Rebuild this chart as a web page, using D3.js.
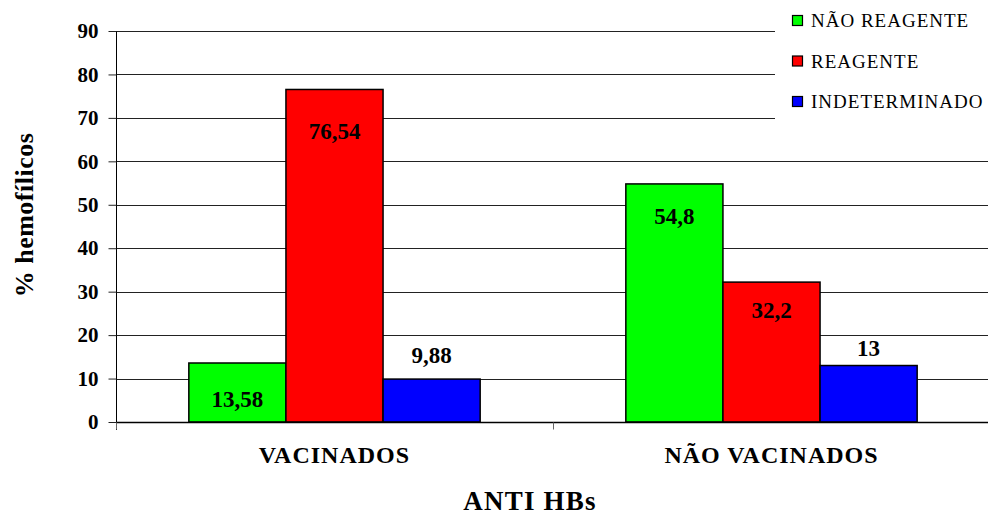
<!DOCTYPE html>
<html>
<head>
<meta charset="utf-8">
<script src="https://cdn.jsdelivr.net/npm/d3@7"></script>
<style>
  html, body { margin: 0; padding: 0; background: #fff; }
  svg text { font-family: "Liberation Serif", "Times New Roman", serif; }
</style>
</head>
<body>
<svg id="chart" width="988" height="517"></svg>
<script>
// Anti-HBs results among haemophiliacs, by vaccination status
const groups = ["VACINADOS", "NÃO VACINADOS"];
const seriesNames = ["NÃO REAGENTE", "REAGENTE", "INDETERMINADO"];
const naoReagente = [13.58, 54.8];
const reagente = [76.54, 32.2];
const indeterminado = [9.88, 13];
const valueLabels = [["13,58", "54,8"], ["76,54", "32,2"], ["9,88", "13"]];
const yTicks = [0, 10, 20, 30, 40, 50, 60, 70, 80, 90];

const seriesValues = [naoReagente, reagente, indeterminado];
const colors = ["#00ff00", "#ff0000", "#0000ff"];
// vertical offset of each value label from its bar top (px, negative = above)
const labelOffset = [[36, 33], [42, 28], [-24, -17]];

const FONT = "'Liberation Serif', 'Times New Roman', serif";
const svg = d3.select("#chart");
const m = { left: 116, top: 31, right: 990, bottom: 422 };

const y = d3.scaleLinear().domain([0, 90]).range([m.bottom, m.top]);
const x0 = d3.scaleBand().domain(groups).range([m.left, m.right]).paddingInner(0).paddingOuter(0);
const x1 = d3.scaleBand().domain(seriesNames).range([0, x0.bandwidth()]).paddingInner(0).paddingOuter(0.75);

// gridlines
svg.append("g").selectAll("line").data(yTicks.filter(t => t > 0)).join("line")
  .attr("x1", m.left).attr("x2", m.right)
  .attr("y1", d => Math.round(y(d)) + 0.5).attr("y2", d => Math.round(y(d)) + 0.5)
  .attr("stroke", "#222").attr("stroke-width", 1);

// bars
const gBars = svg.append("g");
groups.forEach((g, gi) => {
  seriesNames.forEach((s, si) => {
    const v = seriesValues[si][gi];
    gBars.append("rect")
      .attr("x", x0(g) + x1(s))
      .attr("y", y(v))
      .attr("width", x1.bandwidth())
      .attr("height", y(0) - y(v))
      .attr("fill", colors[si])
      .attr("stroke", "#000").attr("stroke-width", 1.5);
  });
});

// value labels
groups.forEach((g, gi) => {
  seriesNames.forEach((s, si) => {
    const v = seriesValues[si][gi];
    svg.append("text")
      .attr("x", x0(g) + x1(s) + x1.bandwidth() / 2)
      .attr("y", y(v) + labelOffset[si][gi])
      .attr("text-anchor", "middle").attr("dominant-baseline", "central")
      .attr("font-family", FONT)
      .attr("font-weight", "bold").attr("font-size", 23)
      .text(valueLabels[si][gi]);
  });
});

// y axis
const yAxis = d3.axisLeft(y).tickValues(yTicks).tickSize(8).tickPadding(10).tickFormat(d3.format("d"));
const gy = svg.append("g").attr("transform", `translate(${m.left + 0.5},0)`).call(yAxis)
  .attr("font-family", FONT);
gy.select(".domain").attr("d", `M0,${m.top}V${m.bottom + 8}`).attr("stroke", "#000");
gy.selectAll(".tick line").attr("stroke", "#222");
gy.selectAll(".tick text").attr("font-size", 21).attr("font-weight", "bold")
  .attr("font-family", FONT).attr("fill", "#000");

// x axis
const gx = svg.append("g").attr("transform", `translate(0,${m.bottom + 0.5})`);
gx.append("line").attr("x1", m.left).attr("x2", m.right).attr("stroke", "#000").attr("stroke-width", 1.5);
[m.left, x0(groups[1]), m.right].forEach(t => {
  gx.append("line").attr("x1", t + 0.5).attr("x2", t + 0.5).attr("y1", 0).attr("y2", 7).attr("stroke", "#666");
});
groups.forEach(g => {
  svg.append("text")
    .attr("x", x0(g) + x0.bandwidth() / 2).attr("y", 463)
    .attr("text-anchor", "middle").attr("font-family", FONT)
    .attr("font-weight", "bold").attr("font-size", 24).attr("letter-spacing", 1)
    .text(g);
});

// axis titles
svg.append("text").attr("x", 530).attr("y", 510)
  .attr("text-anchor", "middle").attr("font-family", FONT)
  .attr("font-weight", "bold").attr("font-size", 27).attr("letter-spacing", 1.2)
  .text("ANTI HBs");
svg.append("text").attr("transform", "translate(33,215) rotate(-90)")
  .attr("text-anchor", "middle").attr("font-family", FONT)
  .attr("font-weight", "bold").attr("font-size", 26).attr("letter-spacing", 0.5)
  .text("% hemofílicos");

// legend
const lg = svg.append("g");
lg.append("rect").attr("x", 775).attr("y", 0).attr("width", 213).attr("height", 126).attr("fill", "#fff");
seriesNames.forEach((s, i) => {
  const cy = 20.5 + i * 40.5;
  lg.append("rect").attr("x", 792.5).attr("y", cy - 5).attr("width", 10).attr("height", 10)
    .attr("fill", colors[i]).attr("stroke", "#000").attr("stroke-width", 1.2);
  lg.append("text").attr("x", 811).attr("y", cy).attr("dominant-baseline", "central")
    .attr("font-family", FONT).attr("font-size", 19).attr("letter-spacing", 1).text(s);
});
</script>
</body>
</html>
